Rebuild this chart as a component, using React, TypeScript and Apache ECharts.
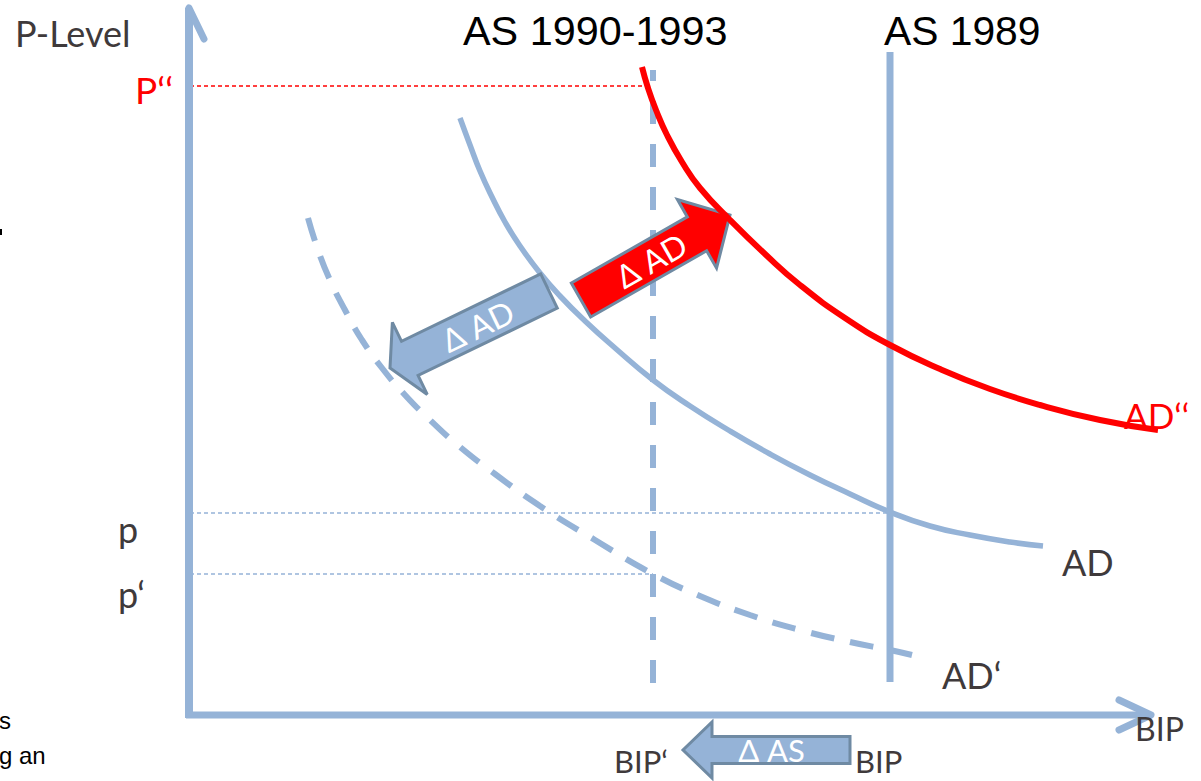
import React, { useEffect, useRef } from 'react';
import * as echarts from 'echarts';

// ---------- colours ----------
const BLUE = '#95B3D7';
const RED = '#FF0000';
const EDGE = '#6F8AA3';
const GRAY = '#3F3A3B';
const LATO = 'Lato, "Noto Sans", sans-serif';
const ARIAL = '"Liberation Sans", Arial, sans-serif';

// ---------- data (x = BIP units, y = price-level units) ----------
// AD (solid)
const adX = [271, 281, 291, 303, 316, 331, 351, 371, 396, 426, 464, 501, 541, 581, 621, 661, 701, 741, 781, 821, 854];
const adY = [597, 570, 544, 518, 493, 469, 442, 419, 394, 367, 335, 309, 284, 261, 240, 221, 203, 189, 180, 173, 169];
// AD‘ (dashed)
const ad1X = [119, 129, 141, 156, 173, 193, 216, 241, 271, 306, 351, 406, 464, 511, 561, 611, 661, 701, 723];
const ad1Y = [497, 465, 435, 405, 375, 347, 320, 295, 268, 241, 209, 175, 141, 119, 100, 85, 73, 65, 60];
// AD‘‘ (red)
const ad2X = [453, 459, 467, 478, 493, 511, 541, 576, 611, 656, 701, 751, 801, 851, 911, 969];
const ad2Y = [648, 627, 605, 580, 553, 527, 495, 461, 430, 397, 370, 346, 326, 310, 295, 285];

// vertical AS lines: x position, y from / to
const as1989 = { x: 701, yFrom: 33, yTo: 663 };
const as1990 = { x: 464, yFrom: 32, yTo: 645 };

// price levels
const pLevel = 202;
const p1Level = 141;
const p2Level = 629;

// shift arrows (tail -> tip)
const arrowTailX = [360, 392, 661];
const arrowTailY = [424, 415, -35];
const arrowTipX = [201, 541, 494];
const arrowTipY = [347, 500, -35];
const arrowLabels = ['Δ AD', 'Δ AD', 'Δ AS'];

// axes extents
const yAxisTop = 706;
const xAxisEnd = 962;

// ---------- styles for arrows ----------
const arrowStyles = [
  { fill: BLUE, shaftW: 38, headW: 80, headL: 22, font: 32, textPos: 0.45 },
  { fill: RED, shaftW: 39, headW: 79, headL: 38, font: 32, textPos: 0.47 },
  { fill: BLUE, shaftW: 27, headW: 56, headL: 29, font: 31, textPos: 0.47 },
];

function pairs(xs: number[], ys: number[]) {
  return xs.map((x, i) => [x, ys[i]]);
}

function lineSeries(data: number[][], lineStyle: any, z: number, smooth: number | boolean = false) {
  return {
    type: 'line',
    data,
    smooth,
    symbol: 'none',
    clip: false,
    silent: true,
    z,
    lineStyle,
  };
}

function arrowSeries(i: number) {
  const st = arrowStyles[i];
  return {
    type: 'custom',
    z: 5,
    silent: true,
    clip: false,
    data: [[arrowTailX[i], arrowTailY[i], arrowTipX[i], arrowTipY[i]]],
    renderItem: (params: any, api: any) => {
      const t = api.coord([api.value(0), api.value(1)]);
      const h = api.coord([api.value(2), api.value(3)]);
      const dx = h[0] - t[0];
      const dy = h[1] - t[1];
      const L = Math.hypot(dx, dy);
      const ux = dx / L;
      const uy = dy / L;
      const nx = -uy;
      const ny = ux;
      const sw = st.shaftW / 2;
      const hw = st.headW / 2;
      const bx = h[0] - ux * st.headL;
      const by = h[1] - uy * st.headL;
      const points = [
        [t[0] + nx * sw, t[1] + ny * sw],
        [bx + nx * sw, by + ny * sw],
        [bx + nx * hw, by + ny * hw],
        [h[0], h[1]],
        [bx - nx * hw, by - ny * hw],
        [bx - nx * sw, by - ny * sw],
        [t[0] - nx * sw, t[1] - ny * sw],
      ];
      let ang = Math.atan2(dy, dx);
      if (ang > Math.PI / 2) ang -= Math.PI;
      if (ang < -Math.PI / 2) ang += Math.PI;
      const tx = t[0] + ux * L * st.textPos;
      const ty = t[1] + uy * L * st.textPos;
      return {
        type: 'group',
        children: [
          {
            type: 'polygon',
            shape: { points },
            style: { fill: st.fill, stroke: EDGE, lineWidth: 3, lineJoin: 'miter' },
          },
          {
            type: 'text',
            x: tx,
            y: ty,
            rotation: -ang,
            style: {
              text: arrowLabels[i],
              fill: '#FFFFFF',
              font: `${st.font}px ${LATO}`,
              textAlign: 'center',
              textVerticalAlign: 'middle',
            },
          },
        ],
      };
    },
  };
}

// ---------- text labels (pixel positions) ----------
const labels = [
  { text: 'P-Level', x: 15, y: 33, size: 36, color: GRAY, family: LATO, sx: 1 },
  { text: 'P‘‘', x: 135, y: 89, size: 37, color: RED, family: LATO, sx: 1 },
  { text: 'p', x: 118, y: 529, size: 36, color: GRAY, family: LATO, sx: 1 },
  { text: 'p‘', x: 118, y: 594, size: 36, color: GRAY, family: LATO, sx: 1 },
  { text: 'AD‘‘', x: 1124, y: 415, size: 35, color: RED, family: LATO, sx: 1 },
  { text: 'AD', x: 1062, y: 562, size: 36, color: GRAY, family: LATO, sx: 1 },
  { text: 'AD‘', x: 942, y: 675, size: 36, color: GRAY, family: LATO, sx: 1 },
  { text: 'BIP', x: 1135, y: 728, size: 32, color: GRAY, family: LATO, sx: 1 },
  { text: 'BIP‘', x: 614, y: 761, size: 31, color: GRAY, family: LATO, sx: 1 },
  { text: 'BIP', x: 855, y: 761, size: 31, color: GRAY, family: LATO, sx: 1 },
  { text: 'AS 1990-1993', x: 463, y: 31, size: 40, color: '#000000', family: ARIAL, sx: 1.035 },
  { text: 'AS 1989', x: 884, y: 31, size: 40, color: '#000000', family: ARIAL, sx: 1.02 },
  { text: 's', x: -1, y: 720, size: 24, color: '#000000', family: ARIAL, sx: 1 },
  { text: 'g an', x: -1, y: 755, size: 24, color: '#000000', family: ARIAL, sx: 1 },
];

function buildOption() {
  const series: any[] = [
    // thin dashed guide lines
    lineSeries([[1, p2Level], [as1990.x - 8, p2Level]], { color: RED, width: 1.5, type: [4, 3] }, 2),
    lineSeries([[1, pLevel], [as1989.x, pLevel]], { color: BLUE, width: 1.5, type: [4, 3] }, 2),
    lineSeries([[1, p1Level], [as1990.x, p1Level]], { color: BLUE, width: 1.5, type: [4, 3] }, 2),
    // AS lines
    lineSeries([[as1989.x, as1989.yFrom], [as1989.x, as1989.yTo]], { color: BLUE, width: 7 }, 3),
    lineSeries([[as1990.x, as1990.yFrom], [as1990.x, as1990.yTo]], { color: BLUE, width: 6, type: [23, 20] }, 3),
    // AD curves
    lineSeries(pairs(adX, adY), { color: BLUE, width: 5.5 }, 4, 0.5),
    lineSeries(pairs(ad1X, ad1Y), { color: BLUE, width: 6, type: [24, 16] }, 4, 0.5),
    // arrows
    arrowSeries(0),
    arrowSeries(1),
    arrowSeries(2),
    // AD'' red on top
    lineSeries(pairs(ad2X, ad2Y), { color: RED, width: 6 }, 6, 0.5),
    // axes
    lineSeries([[0, -3], [0, yAxisTop]], { color: BLUE, width: 8 }, 7),
    lineSeries([[-3, 0], [xAxisEnd, 0]], { color: BLUE, width: 7 }, 7),
    lineSeries([[-15, 676], [0, 707], [15, 676]], { color: BLUE, width: 7, cap: 'round', join: 'round' }, 7),
    lineSeries([[xAxisEnd - 32, 15], [xAxisEnd, 0], [xAxisEnd - 32, -15]], { color: BLUE, width: 7, cap: 'round', join: 'round' }, 7),
  ];

  const graphic: any[] = labels.map((l) => ({
    type: 'text',
    x: l.x,
    y: l.y,
    scaleX: l.sx,
    silent: true,
    z: 10,
    style: {
      text: l.text,
      fill: l.color,
      font: `${l.size}px ${l.family}`,
      textAlign: 'left',
      textVerticalAlign: 'middle',
    },
  }));
  graphic.push({
    type: 'rect',
    shape: { x: 0, y: 229, width: 2, height: 6 },
    style: { fill: '#000000' },
    silent: true,
  });

  return {
    animation: false,
    backgroundColor: '#FFFFFF',
    grid: { left: 189, right: 0, top: 15, bottom: 66 },
    xAxis: { type: 'value', min: 0, max: 1012, show: false },
    yAxis: { type: 'value', min: 0, max: 700, show: false },
    series,
    graphic,
  };
}

export default function App() {
  const ref = useRef<HTMLDivElement>(null);
  useEffect(() => {
    if (!ref.current) return;
    const chart = echarts.init(ref.current, null, { renderer: 'svg' });
    chart.setOption(buildOption() as any);
    return () => chart.dispose();
  }, []);
  return (
    <div
      ref={ref}
      style={{ position: 'fixed', left: 0, top: 0, width: 1201, height: 781, background: '#FFFFFF' }}
    />
  );
}
